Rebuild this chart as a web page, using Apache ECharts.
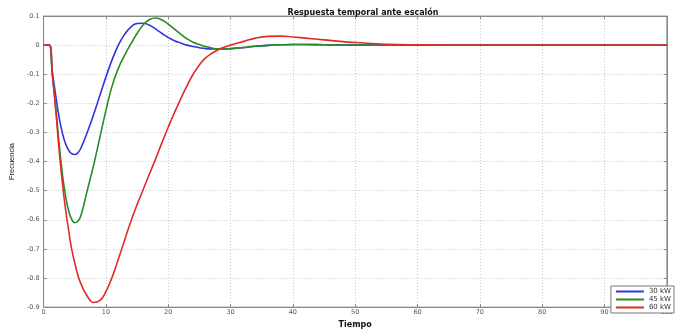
<!DOCTYPE html>
<html>
<head>
<meta charset="utf-8">
<script src="https://cdn.jsdelivr.net/npm/echarts@6/dist/echarts.min.js"></script>
<style>
  html, body { margin: 0; padding: 0; background: #fff; }
  #chart { width: 676px; height: 334px; }
</style>
</head>
<body>
<div id="chart"></div>
<script>
// Step response of frequency deviation for three load levels
const tiempo = [0, 0.9, 1.4, 2, 2.5, 3, 3.5, 4, 4.5, 5, 5.5, 6, 7, 8, 9, 10, 11, 12, 13, 14, 15, 16, 17, 18, 19, 20,
  21, 22, 23, 24, 25, 26, 27, 28, 29, 30, 32, 34, 36, 38, 40, 42, 45, 48, 50, 55, 60, 70, 80, 90, 100];

const kw30 = [0, 0, -0.09, -0.18, -0.25, -0.30, -0.337, -0.36, -0.373, -0.376, -0.37, -0.353, -0.30, -0.24, -0.175, -0.11,
  -0.05, 0.0, 0.037, 0.062, 0.074, 0.075, 0.068, 0.055, 0.04, 0.026, 0.015, 0.007, 0.0, -0.005, -0.009, -0.012,
  -0.013, -0.013, -0.013, -0.012, -0.009, -0.004, -0.001, 0.001, 0.002, 0.002, 0.001, 0.0, 0.0, 0.0, 0.0, 0.0, 0.0, 0.0, 0.0];

const kw45 = [0, 0, -0.1, -0.225, -0.34, -0.44, -0.515, -0.567, -0.598, -0.61, -0.605, -0.585, -0.50, -0.415, -0.32, -0.225,
  -0.14, -0.08, -0.035, 0.004, 0.04, 0.07, 0.088, 0.093, 0.086, 0.072, 0.055, 0.038, 0.022, 0.01, 0.002, -0.005,
  -0.01, -0.013, -0.013, -0.012, -0.008, -0.004, -0.001, 0.001, 0.002, 0.002, 0.001, 0.0, 0.0, 0.0, 0.0, 0.0, 0.0, 0.0, 0.0];

const kw60 = [0, 0, -0.1, -0.235, -0.362, -0.47, -0.56, -0.633, -0.70, -0.748, -0.79, -0.82, -0.862, -0.884, -0.878, -0.847,
  -0.797, -0.735, -0.67, -0.606, -0.548, -0.495, -0.442, -0.39, -0.335, -0.282, -0.232, -0.185, -0.14, -0.1, -0.068,
  -0.044, -0.028, -0.016, -0.007, 0.0, 0.012, 0.024, 0.03, 0.031, 0.028, 0.024, 0.018, 0.012, 0.009, 0.003, 0.001,
  0.0, 0.0, 0.0, 0.0];

const seriesNames = ['30 kW', '45 kW', '60 kW'];
const seriesColors = ['#3434d8', '#278c27', '#e22a2a'];
const seriesValues = [kw30, kw45, kw60];

const wide = '"DejaVu Sans", Verdana, sans-serif';
const narrow = '"Liberation Sans", Arial, sans-serif';

const pairs = vals => tiempo.map((t, i) => [t, vals[i]]);
const fmtY = v => (Math.abs(v) < 1e-9 ? '0' : v.toFixed(1));

const chart = echarts.init(document.getElementById('chart'), null, { renderer: 'canvas' });

const gridLine = { show: true, lineStyle: { color: '#c8c8c8', type: [1, 2], width: 1 } };
const axLine = { show: true, onZero: false, lineStyle: { color: '#888', width: 1 } };
const ticks = { show: true, inside: true, length: 3, lineStyle: { color: '#888' } };

chart.setOption({
  animation: false,
  backgroundColor: '#fff',
  title: {
    text: 'Respuesta temporal ante escalón',
    left: 358, top: 4, textAlign: 'center',
    textStyle: { fontFamily: wide, fontSize: 8, fontWeight: 'bold', color: '#111' }
  },
  grid: { left: 43, right: 3, top: 16, bottom: 18, show: true, borderColor: '#999', borderWidth: 1 },
  legend: {
    data: seriesNames,
    orient: 'vertical',
    right: 2, bottom: 21,
    itemWidth: 28, itemHeight: 6, itemGap: 1,
    padding: [2, 3, 2, 4],
    backgroundColor: '#fff',
    borderColor: '#777', borderWidth: 1,
    align: 'left',
    itemStyle: { opacity: 0 },
    textStyle: { fontFamily: wide, fontSize: 7, color: '#333' }
  },
  xAxis: [{
    type: 'value', min: 0, max: 100, interval: 10,
    name: 'Tiempo', nameLocation: 'middle', nameGap: 7,
    nameTextStyle: { fontFamily: wide, fontSize: 8, fontWeight: 'bold', color: '#111' },
    axisLine: axLine, axisTick: ticks, splitLine: gridLine,
    axisLabel: { fontFamily: wide, fontSize: 6.5, color: '#555', margin: 2 }
  }, {
    type: 'value', min: 0, max: 100, interval: 10, position: 'top',
    axisLine: axLine, axisTick: ticks, splitLine: { show: false }, axisLabel: { show: false }
  }],
  yAxis: [{
    type: 'value', min: -0.9, max: 0.1, interval: 0.1,
    name: 'Frecuencia', nameLocation: 'middle', nameGap: 23, nameRotate: 90,
    nameTextStyle: { fontFamily: narrow, fontSize: 7.5, color: '#111' },
    axisLine: axLine, axisTick: ticks, splitLine: gridLine,
    axisLabel: { fontFamily: wide, fontSize: 6.5, color: '#555', margin: 4, formatter: fmtY }
  }, {
    type: 'value', min: -0.9, max: 0.1, interval: 0.1, position: 'right',
    axisLine: axLine, axisTick: ticks, splitLine: { show: false }, axisLabel: { show: false }
  }],
  series: seriesNames.map((name, k) => ({
    name: name,
    type: 'line',
    data: pairs(seriesValues[k]),
    showSymbol: false, symbol: 'none',
    smooth: 0.5,
    lineStyle: { color: seriesColors[k], width: 1.6 },
    itemStyle: { color: seriesColors[k] },
    z: 2 + k
  }))
});
</script>
</body>
</html>
